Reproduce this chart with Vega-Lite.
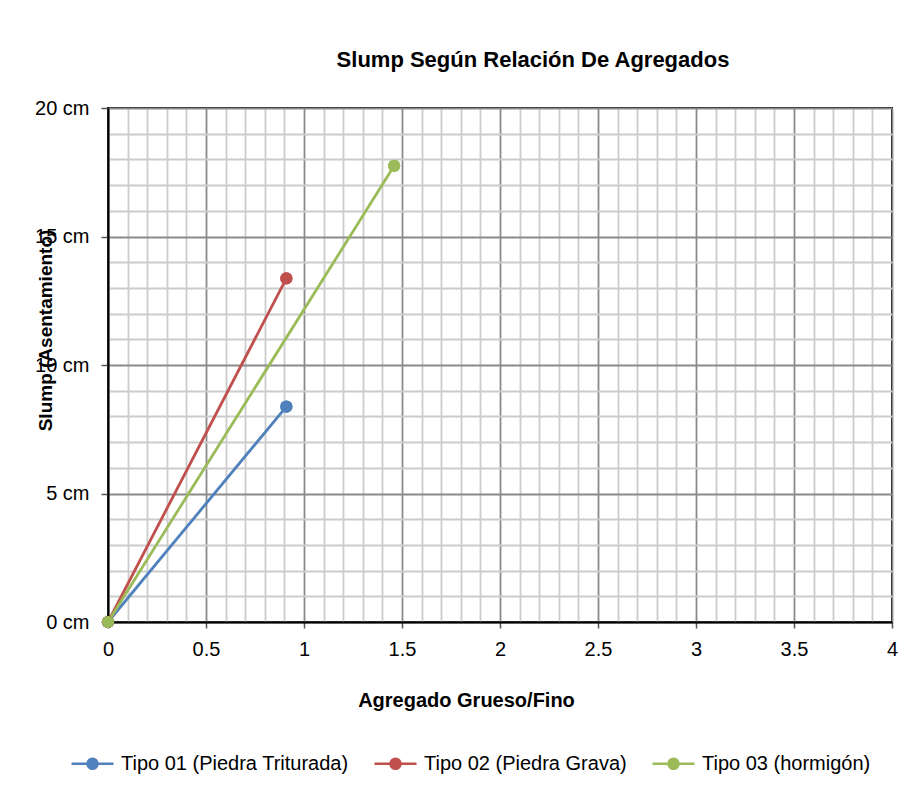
{
  "$schema": "https://vega.github.io/schema/vega-lite/v6.json",
  "width": 784,
  "height": 514,
  "autosize": {"type": "none"},
  "padding": {"left": 108, "top": 108, "right": 19, "bottom": 170},
  "background": "white",
  "title": {
    "text": "Slump Según Relación De Agregados",
    "anchor": "middle",
    "dx": 33,
    "offset": 9,
    "baseline": "alphabetic",
    "font": "Liberation Sans",
    "fontSize": 22,
    "fontWeight": "bold",
    "color": "black"
  },
  "config": {
    "view": {"stroke": "black", "strokeWidth": 2},
    "font": "Liberation Sans"
  },
  "data": {
    "values": [
      {"tipo": "Tipo 01 (Piedra Triturada)", "ratio": 0, "slump": 0},
      {"tipo": "Tipo 01 (Piedra Triturada)", "ratio": 0.91, "slump": 8.38},
      {"tipo": "Tipo 02 (Piedra Grava)", "ratio": 0, "slump": 0},
      {"tipo": "Tipo 02 (Piedra Grava)", "ratio": 0.91, "slump": 13.37},
      {"tipo": "Tipo 03 (hormigón)", "ratio": 0, "slump": 0},
      {"tipo": "Tipo 03 (hormigón)", "ratio": 1.46, "slump": 17.75}
    ]
  },
  "encoding": {
    "x": {
      "field": "ratio",
      "type": "quantitative",
      "scale": {"domain": [0, 4], "nice": false, "zero": false},
      "axis": {
        "title": "Agregado Grueso/Fino",
        "titleFont": "Liberation Sans",
        "titleFontSize": 20,
        "titleFontWeight": "bold",
        "titleColor": "black",
        "titleX": 358,
        "titleY": 78,
        "titleBaseline": "middle",
        "values": [0, 0.1, 0.2, 0.3, 0.4, 0.5, 0.6, 0.7, 0.8, 0.9, 1, 1.1, 1.2, 1.3, 1.4, 1.5, 1.6, 1.7, 1.8, 1.9, 2, 2.1, 2.2, 2.3, 2.4, 2.5, 2.6, 2.7, 2.8, 2.9, 3, 3.1, 3.2, 3.3, 3.4, 3.5, 3.6, 3.7, 3.8, 3.9, 4],
        "labelExpr": "round(datum.value*10) % 5 === 0 ? '' + round(datum.value*10)/10 : ''",
        "labelFontSize": 20,
        "labelColor": "black",
        "labelPadding": 11,
        "labelFlush": false,
        "labelOverlap": false,
        "domainColor": "black",
        "domainWidth": 2,
        "tickColor": "#555555",
        "tickSize": 6,
        "tickWidth": 1.5,
        "tickOpacity": {"condition": {"test": "round(datum.value*10) % 5 === 0", "value": 1}, "value": 0},
        "grid": true,
        "gridWidth": 1.8,
        "gridOpacity": 1,
        "gridColor": {"condition": {"test": "round(datum.value*10) % 5 === 0", "value": "#8a8a8a"}, "value": "#cccccc"}
      }
    },
    "y": {
      "field": "slump",
      "type": "quantitative",
      "scale": {"domain": [0, 20], "nice": false, "zero": false},
      "axis": {
        "title": "Slump (Asentamiento)",
        "titleFont": "Liberation Sans",
        "titleFontSize": 19,
        "titleFontWeight": "bold",
        "titleColor": "black",
        "titleX": -63,
        "titleY": 222,
        "titleAngle": -90,
        "titleAlign": "center",
        "titleBaseline": "middle",
        "values": [0, 1, 2, 3, 4, 5, 6, 7, 8, 9, 10, 11, 12, 13, 14, 15, 16, 17, 18, 19, 20],
        "labelExpr": "datum.value % 5 === 0 ? datum.value + ' cm' : ''",
        "labelFontSize": 20,
        "labelColor": "black",
        "labelPadding": 12,
        "labelFlush": false,
        "labelOverlap": false,
        "domainColor": "black",
        "domainWidth": 2,
        "tickColor": "#555555",
        "tickSize": 7,
        "tickWidth": 1.5,
        "tickOpacity": {"condition": {"test": "datum.value % 5 === 0", "value": 1}, "value": 0},
        "grid": true,
        "gridWidth": 1.8,
        "gridOpacity": 1,
        "gridColor": {"condition": {"test": "datum.value % 5 === 0", "value": "#8a8a8a"}, "value": "#cccccc"}
      }
    },
    "color": {
      "field": "tipo",
      "type": "nominal",
      "scale": {
        "domain": ["Tipo 01 (Piedra Triturada)", "Tipo 02 (Piedra Grava)", "Tipo 03 (hormigón)"],
        "range": ["#4F81BD", "#C0504D", "#9BBB59"]
      },
      "legend": {
        "title": null,
        "orient": "none",
        "legendX": -38,
        "legendY": 633,
        "direction": "horizontal",
        "labelFontSize": 20,
        "labelLimit": 400,
        "labelColor": "black",
        "labelFont": "Liberation Sans",
        "symbolType": "M-1,0L1,0M0.24,0A0.24,0.24,0,1,1,-0.24,0A0.24,0.24,0,1,1,0.24,0Z",
        "symbolSize": 1764,
        "symbolStrokeWidth": 2.5,
        "symbolOpacity": 1,
        "labelOffset": 6,
        "columnPadding": 20
      }
    }
  },
  "layer": [
    {"mark": {"type": "point", "filled": true, "size": 150, "opacity": 1}},
    {"mark": {"type": "line", "strokeWidth": 2.8}},
    {"mark": {"type": "point", "filled": true, "size": 150, "opacity": 1}}
  ]
}
